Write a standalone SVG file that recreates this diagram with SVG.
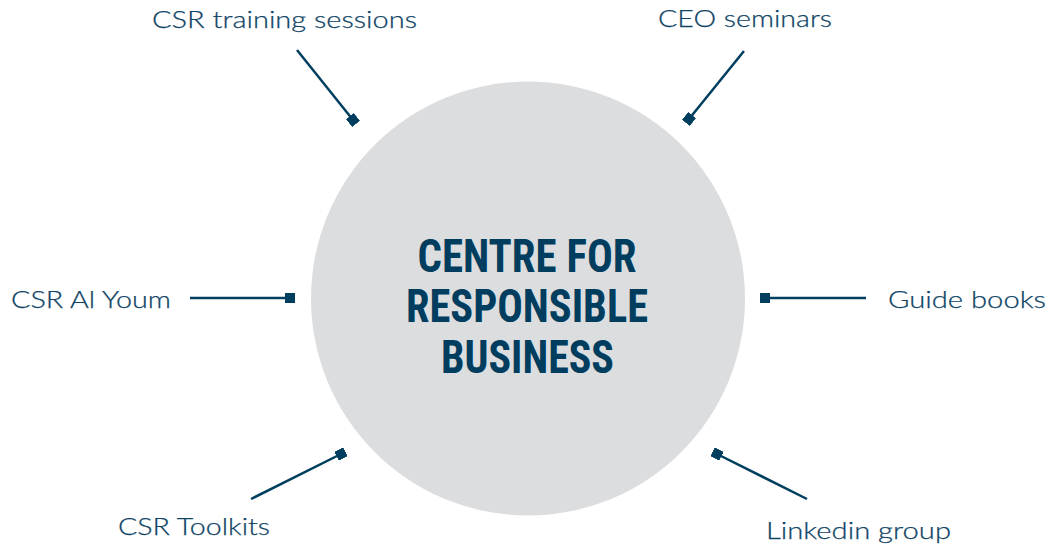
<svg xmlns="http://www.w3.org/2000/svg" width="1051" height="549" viewBox="0 0 1051 549">
<defs>
<marker id="sq" viewBox="-5 -5 10 10" markerWidth="10" markerHeight="10" markerUnits="userSpaceOnUse" refX="0" refY="0" orient="auto">
<rect x="-5" y="-5" width="10" height="10" fill="#003e5f"/>
</marker>
<style>
.lbl{font-family:"Lato","Open Sans","Liberation Sans",sans-serif;font-weight:300;font-size:23px;fill:#0f4466;stroke:#0f4466;stroke-width:0.25}
.ttl{font-family:"Liberation Sans Narrow","Roboto Condensed","DejaVu Sans Condensed","Liberation Sans",sans-serif;font-weight:bold;font-size:46px;fill:#003d5e;text-anchor:middle}
.con{stroke:#003e5f;stroke-width:2.5;fill:none;marker-end:url(#sq)}
</style>
</defs>
<rect width="1051" height="549" fill="#ffffff"/>
<g id="center">
<circle cx="528" cy="298.5" r="217" fill="#dcdddf"/>
<text class="ttl" x="527" y="272" textLength="219" lengthAdjust="spacingAndGlyphs">CENTRE FOR</text>
<text class="ttl" x="527" y="322" textLength="242" lengthAdjust="spacingAndGlyphs">RESPONSIBLE</text>
<text class="ttl" x="527.5" y="373" textLength="173" lengthAdjust="spacingAndGlyphs">BUSINESS</text>
</g>
<g id="connectors">
<line class="con" x1="297" y1="50" x2="353" y2="120"/>
<line class="con" x1="744" y1="51" x2="689" y2="119"/>
<line class="con" x1="190" y1="298" x2="290" y2="298"/>
<line class="con" x1="866" y1="298" x2="765" y2="298"/>
<line class="con" x1="251" y1="499" x2="341" y2="454"/>
<line class="con" x1="807" y1="499" x2="717" y2="454"/>
</g>
<g id="n-csr-training"><text class="lbl" x="152" y="28" textLength="265" lengthAdjust="spacingAndGlyphs">CSR training sessions</text></g>
<g id="n-ceo"><text class="lbl" x="658" y="27" textLength="174" lengthAdjust="spacingAndGlyphs">CEO seminars</text></g>
<g id="n-alyoum"><text class="lbl" x="11" y="308" textLength="160" lengthAdjust="spacingAndGlyphs">CSR Al Youm</text></g>
<g id="n-guide"><text class="lbl" x="888" y="308" textLength="158" lengthAdjust="spacingAndGlyphs">Guide books</text></g>
<g id="n-toolkits"><text class="lbl" x="118" y="535" textLength="152" lengthAdjust="spacingAndGlyphs">CSR Toolkits</text></g>
<g id="n-linkedin"><text class="lbl" x="766" y="539" textLength="185" lengthAdjust="spacingAndGlyphs">Linkedin group</text></g>
</svg>
